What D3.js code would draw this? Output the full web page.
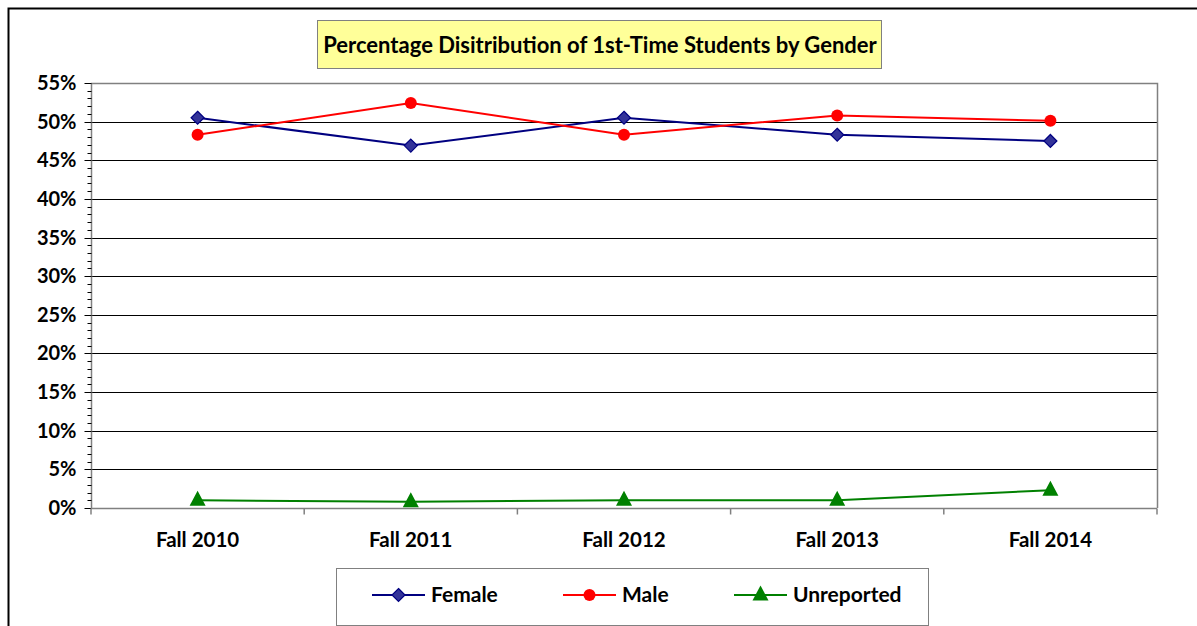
<!DOCTYPE html>
<html>
<head>
<meta charset="utf-8">
<script src="https://cdn.jsdelivr.net/npm/d3@7"></script>
<style>
  body { margin: 0; background: #fff; }
  svg { display: block; font-family: Lato, "Open Sans", sans-serif; }
</style>
</head>
<body>
<div id="chart"></div>
<script>
var categories = ['Fall 2010', 'Fall 2011', 'Fall 2012', 'Fall 2013', 'Fall 2014'];
var femaleVals = [50.5, 46.9, 50.5, 48.3, 47.5];
var maleVals = [48.3, 52.4, 48.3, 50.8, 50.1];
var unreportedVals = [1.0, 0.8, 1.0, 1.0, 2.3];
var yTicks = [0, 5, 10, 15, 20, 25, 30, 35, 40, 45, 50, 55];
var chartTitle = 'Percentage Disitribution of 1st-Time Students by Gender';

var series = [
  { name: 'Female', values: femaleVals, color: '#000080', fill: '#333399', marker: 'diamond' },
  { name: 'Male', values: maleVals, color: '#ff0000', fill: '#ff0000', marker: 'circle' },
  { name: 'Unreported', values: unreportedVals, color: '#008000', fill: '#008000', marker: 'triangle' }
];

var width = 1197, height = 626,
    plotLeft = 91, plotRight = 1157, plotTop = 83, plotBottom = 508;

var svg = d3.select('#chart').append('svg')
  .attr('width', width)
  .attr('height', height);

// outer chart frame
svg.append('rect')
  .attr('x', 8.5).attr('y', 8.5)
  .attr('width', 1220).attr('height', 700)
  .attr('fill', '#fff').attr('stroke', '#000').attr('stroke-width', 2);

var x = d3.scaleBand().domain(categories).range([plotLeft, plotRight]);
var y = d3.scaleLinear().domain([0, 55]).range([plotBottom, plotTop]);

// gridlines
svg.append('g').selectAll('line')
  .data(yTicks.filter(function(d) { return d > 0 && d < 55; }))
  .enter().append('line')
  .attr('x1', plotLeft).attr('x2', plotRight)
  .attr('y1', function(d) { return Math.round(y(d)) + 0.5; })
  .attr('y2', function(d) { return Math.round(y(d)) + 0.5; })
  .attr('stroke', '#000').attr('stroke-width', 1);

// plot border top / right
svg.append('path')
  .attr('d', 'M' + plotLeft + ',' + (plotTop + 0.5) + 'H' + (plotRight + 0.5) + 'V' + plotBottom)
  .attr('fill', 'none').attr('stroke', '#808080').attr('stroke-width', 1.5);

// y axis with minor ticks
var minor = d3.range(0, 56, 1);
var yAxis = svg.append('g').attr('transform', 'translate(' + (plotLeft + 0.5) + ',0)');
yAxis.append('line').attr('y1', plotTop).attr('y2', plotBottom).attr('stroke', '#808080').attr('stroke-width', 1.5);
yAxis.selectAll('.minor').data(minor).enter().append('line')
  .attr('class', 'minor')
  .attr('x1', function(d) { return d % 5 === 0 ? -7 : -4; }).attr('x2', 0)
  .attr('y1', function(d) { return Math.round(y(d)) + 0.5; })
  .attr('y2', function(d) { return Math.round(y(d)) + 0.5; })
  .attr('stroke', '#000').attr('stroke-width', 1);
yAxis.selectAll('text').data(yTicks).enter().append('text')
  .attr('x', -15)
  .attr('y', function(d) { return y(d); })
  .attr('dy', '0.35em')
  .attr('text-anchor', 'end')
  .attr('font-size', 20).attr('font-weight', 'bold')
  .text(function(d) { return d + '%'; });

// x axis
var xAxis = svg.append('g').attr('transform', 'translate(0,' + (plotBottom + 0.5) + ')');
xAxis.append('line').attr('x1', plotLeft).attr('x2', plotRight).attr('stroke', '#808080').attr('stroke-width', 1.5);
xAxis.selectAll('.tick').data(categories.concat(['end'])).enter().append('line')
  .attr('class', 'tick')
  .attr('x1', function(d, i) { return plotLeft + i * x.bandwidth(); })
  .attr('x2', function(d, i) { return plotLeft + i * x.bandwidth(); })
  .attr('y1', 0).attr('y2', 6)
  .attr('stroke', '#808080').attr('stroke-width', 1.5);
xAxis.selectAll('text').data(categories).enter().append('text')
  .attr('x', function(d) { return x(d) + x.bandwidth() / 2; })
  .attr('y', 31)
  .attr('dy', '0.35em')
  .attr('text-anchor', 'middle')
  .attr('font-size', 20.5).attr('font-weight', 'bold')
  .text(function(d) { return d; });

function drawMarker(g, type, color, fill) {
  if (type === 'diamond') {
    g.append('path').attr('d', 'M0,-6.5L6.5,0L0,6.5L-6.5,0Z')
      .attr('fill', fill).attr('stroke', color).attr('stroke-width', 1.2);
  } else if (type === 'circle') {
    g.append('circle').attr('r', 6).attr('fill', fill);
  } else {
    g.append('path').attr('d', 'M0,-9.5L8,5.5L-8,5.5Z').attr('fill', fill);
  }
}

var line = d3.line()
  .x(function(d, i) { return x(categories[i]) + x.bandwidth() / 2; })
  .y(function(d) { return y(d); });

series.forEach(function(s) {
  svg.append('path')
    .attr('d', line(s.values))
    .attr('fill', 'none').attr('stroke', s.color).attr('stroke-width', 2);
  s.values.forEach(function(v, i) {
    var g = svg.append('g')
      .attr('transform', 'translate(' + (x(categories[i]) + x.bandwidth() / 2) + ',' + y(v) + ')');
    drawMarker(g, s.marker, s.color, s.fill);
  });
});

// title box
svg.append('rect')
  .attr('x', 317.5).attr('y', 20.5).attr('width', 564).attr('height', 48)
  .attr('fill', '#ffff99').attr('stroke', '#808080').attr('stroke-width', 1);
svg.append('text')
  .attr('x', 600).attr('y', 45).attr('dy', '0.35em')
  .attr('text-anchor', 'middle')
  .attr('font-size', 22).attr('font-weight', 'bold')
  .text(chartTitle);

// legend
var legend = svg.append('g');
legend.append('rect')
  .attr('x', 336.5).attr('y', 568.5).attr('width', 592).attr('height', 57)
  .attr('fill', '#fff').attr('stroke', '#808080').attr('stroke-width', 1);
var legendX = [372, 563, 734];
series.forEach(function(s, i) {
  var g = legend.append('g').attr('transform', 'translate(' + legendX[i] + ',595)');
  g.append('line').attr('x1', 0).attr('x2', 53).attr('stroke', s.color).attr('stroke-width', 2);
  var m = g.append('g').attr('transform', 'translate(26.5,0)');
  drawMarker(m, s.marker, s.color, s.fill);
  g.append('text').attr('x', 59).attr('dy', '0.35em')
    .attr('font-size', 21).attr('font-weight', 'bold')
    .text(s.name);
});
</script>
</body>
</html>
